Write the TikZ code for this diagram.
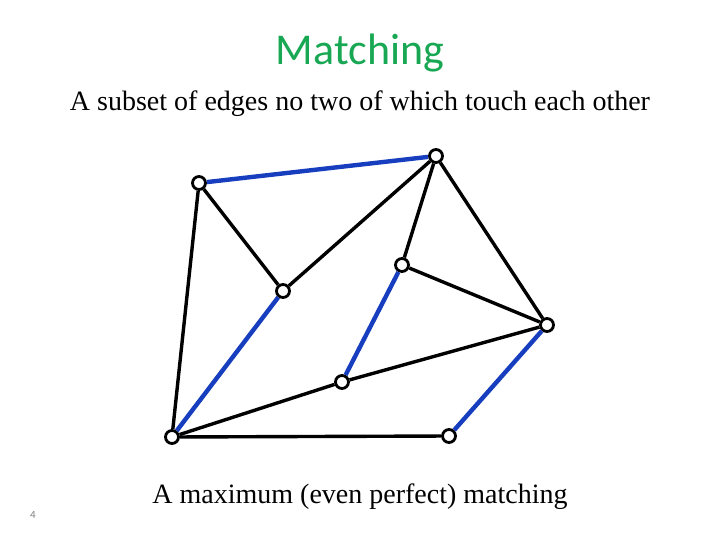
\documentclass[tikz,border=0pt]{standalone}
\usepackage{fontspec}
\setmainfont{Liberation Serif}
\newfontfamily\titlefont{Carlito}
\usepackage{xcolor}
\definecolor{titlegreen}{RGB}{24,168,84}
\definecolor{matchblue}{RGB}{22,62,190}

\begin{document}
\begin{tikzpicture}[x=1pt, y=-1pt,
    vertex/.style={draw, circle, line width=2.8pt, fill=white, minimum size=13pt, inner sep=0pt},
    plain/.style={line width=3.4pt, black},
    matched/.style={line width=4.4pt, matchblue}]

    % Page frame
    \useasboundingbox (0,0) rectangle (720,540);

    % Title and subtitle
    \node (title) at (360,53) {\titlefont\fontsize{44}{48}\selectfont\color{titlegreen}Matching};
    \node (subtitle) at (360,104) {\fontsize{28}{32}\selectfont A subset of edges no two of which touch each other};

    % Vertices
    \node[vertex] (a) at (199,183) {};
    \node[vertex] (b) at (436,156) {};
    \node[vertex] (c) at (283,291) {};
    \node[vertex] (d) at (402,265) {};
    \node[vertex] (e) at (547,325) {};
    \node[vertex] (f) at (342,382) {};
    \node[vertex] (g) at (172,437) {};
    \node[vertex] (h) at (449,436) {};

    % Edges not in the matching
    \draw[plain] (a) -- (c);
    \draw[plain] (a) -- (g);
    \draw[plain] (b) -- (c);
    \draw[plain] (b) -- (d);
    \draw[plain] (b) -- (e);
    \draw[plain] (d) -- (e);
    \draw[plain] (f) -- (e);
    \draw[plain] (g) -- (f);
    \draw[plain] (g) -- (h);

    % Matching edges
    \draw[matched] (a) -- (b);
    \draw[matched] (c) -- (g);
    \draw[matched] (d) -- (f);
    \draw[matched] (e) -- (h);

    % Caption and slide number
    \node (caption) at (360,497) {\fontsize{28}{32}\selectfont A maximum (even perfect) matching};
    \node (pagenum) at (33,515) {\titlefont\fontsize{11}{13}\selectfont\color{gray}4};

\end{tikzpicture}
\end{document}
